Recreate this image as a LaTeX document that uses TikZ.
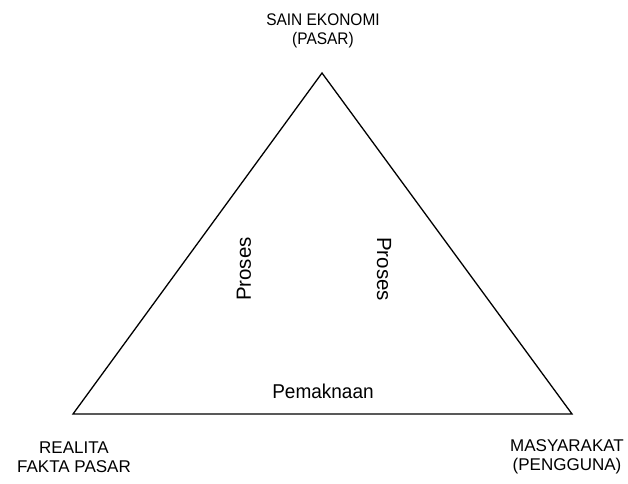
\documentclass[tikz,border=0pt]{standalone}
\usepackage{fontspec}
\setmainfont{Liberation Sans}
\newfontfamily\topfont[FakeStretch=0.92]{Liberation Sans}
\newfontfamily\pmfont[FakeStretch=0.95]{Liberation Sans}
\begin{document}
\begin{tikzpicture}[x=1pt,y=-1pt,
  lbl/.style={inner sep=0pt,align=center,font=\fontsize{17}{19.5}\selectfont},
  inner/.style={inner sep=0pt,font=\fontsize{20.5}{24}\selectfont},
  edge/.style={line width=1.3pt,line join=miter}]
\useasboundingbox (0,0) rectangle (628,483);
\coordinate (top) at (322,73);
\coordinate (bl) at (73,414);
\coordinate (br) at (572,414);
\draw[edge] (top) -- (bl) -- (br) -- cycle;
\node[lbl,font=\topfont\fontsize{16.8}{19.5}\selectfont] (tlab) at (323,31) {SAIN EKONOMI\\(PASAR)};
\node[lbl] (bllab) at (74,457) {REALITA\\FAKTA PASAR};
\node[lbl] (brlab) at (567,457) {MASYARAKAT\\(PENGGUNA)};
\node[inner,rotate=90] (p1) at (244,269) {Proses};
\node[inner,rotate=-90] (p2) at (384,269) {Proses};
\node[inner,font=\pmfont\fontsize{20}{24}\selectfont] (pm) at (323,391) {Pemaknaan};
\end{tikzpicture}
\end{document}
